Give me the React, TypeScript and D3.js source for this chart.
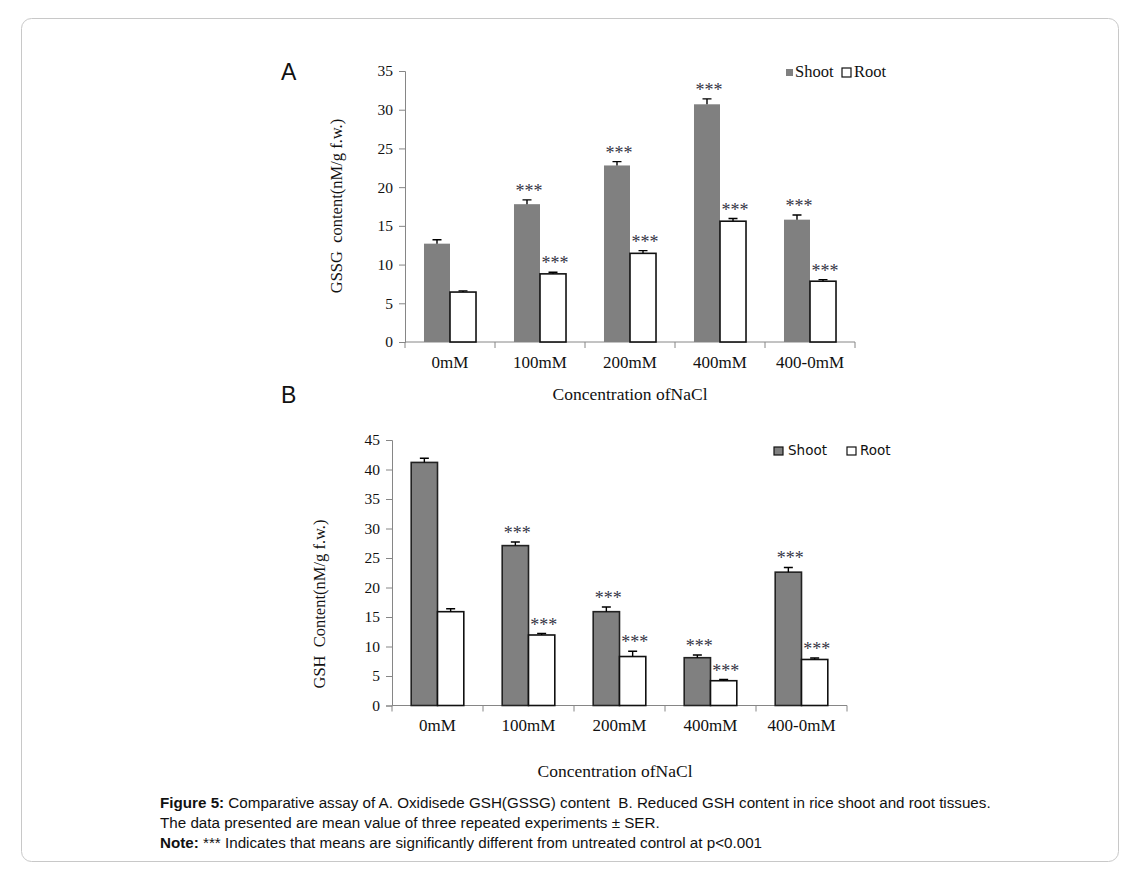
import { useEffect, useRef } from "react";
import * as d3 from "d3";

const categories = ["0mM", "100mM", "200mM", "400mM", "400-0mM"];
const seriesNames = ["Shoot", "Root"];

// Panel A: GSSG content
const gssgShoot = [12.7, 17.8, 22.8, 30.7, 15.8];
const gssgShootErr = [0.5, 0.55, 0.5, 0.7, 0.6];
const gssgRoot = [6.45, 8.8, 11.45, 15.6, 7.85];
const gssgRootErr = [0.15, 0.2, 0.35, 0.35, 0.2];
const gssgTicks = [0, 5, 10, 15, 20, 25, 30, 35];

// Panel B: GSH content
const gshShoot = [41.2, 27.1, 15.9, 8.1, 22.6];
const gshShootErr = [0.7, 0.6, 0.8, 0.45, 0.8];
const gshRoot = [15.9, 11.95, 8.3, 4.2, 7.8];
const gshRootErr = [0.5, 0.25, 0.9, 0.2, 0.25];
const gshTicks = [0, 5, 10, 15, 20, 25, 30, 35, 40, 45];

// significance marks (*** = p<0.001 vs untreated)
const significant = [false, true, true, true, true];

const SERIF = "'Liberation Serif', 'Times New Roman', serif";
const SANS = "'Liberation Sans', Arial, sans-serif";

interface PanelOpts {
  letter: string;
  yLabel: string;
  shoot: number[];
  shootErr: number[];
  root: number[];
  rootErr: number[];
  ticks: number[];
  x0: number;
  x1: number;
  yTop: number;
  yBottom: number;
  shootStroke: string;
  legendSans: boolean;
  legendX: number;
  legendY: number;
  yLabelX: number;
  yLabelY: number;
  catY: number;
  titleX: number;
  titleY: number;
  letterY: number;
}

function drawPanel(g: d3.Selection<SVGGElement, unknown, null, undefined>, o: PanelOpts) {
  const maxTick = o.ticks[o.ticks.length - 1];
  const y = d3.scaleLinear().domain([0, maxTick]).range([o.yBottom, o.yTop]);
  const x = d3.scaleBand().domain(categories).range([o.x0, o.x1]).padding(0);
  const xs = d3.scaleBand().domain(seriesNames).range([0, x.bandwidth()]).paddingInner(0).paddingOuter(0.73);

  // y axis
  const yAxis = g.append("g")
    .attr("transform", `translate(${o.x0},0)`)
    .call(d3.axisLeft(y).tickValues(o.ticks).tickSize(6).tickPadding(6).tickFormat(d3.format("d")));
  yAxis.select(".domain").attr("stroke", "#868686");
  yAxis.selectAll(".tick line").attr("stroke", "#868686");
  yAxis.selectAll("text")
    .attr("fill", "#111")
    .style("font-family", SERIF)
    .style("font-size", "15.5px");

  // x axis with ticks at category boundaries
  const xAxisG = g.append("g").attr("transform", `translate(0,${o.yBottom})`);
  xAxisG.append("line")
    .attr("x1", o.x0).attr("x2", o.x1)
    .attr("stroke", "#868686");
  const bounds = categories.map(c => x(c) || 0).concat([o.x1]);
  xAxisG.selectAll(".bt").data(bounds).enter().append("line")
    .attr("x1", d => d).attr("x2", d => d)
    .attr("y1", 0).attr("y2", 6)
    .attr("stroke", "#868686");
  xAxisG.selectAll(".cl").data(categories).enter().append("text")
    .attr("x", d => (x(d) || 0) + x.bandwidth() / 2)
    .attr("y", o.catY - o.yBottom)
    .attr("text-anchor", "middle")
    .attr("fill", "#111")
    .style("font-family", SERIF)
    .style("font-size", "17px")
    .text(d => d);

  const series = [
    { name: "Shoot", vals: o.shoot, errs: o.shootErr, fill: "#808080", stroke: o.shootStroke },
    { name: "Root", vals: o.root, errs: o.rootErr, fill: "#ffffff", stroke: "#111" }
  ];

  series.forEach(s => {
    const data = categories.map((c, i) => ({ c, v: s.vals[i], e: s.errs[i], sig: significant[i] }));
    const bx = (c: string) => (x(c) || 0) + (xs(s.name) || 0);
    const bw = xs.bandwidth();

    g.selectAll(`.bar-${s.name}`).data(data).enter().append("rect")
      .attr("x", d => bx(d.c))
      .attr("y", d => y(d.v))
      .attr("width", bw)
      .attr("height", d => o.yBottom - y(d.v))
      .attr("fill", s.fill)
      .attr("stroke", s.stroke)
      .attr("stroke-width", 1.6);

    // upper error bars
    g.selectAll(`.err-${s.name}`).data(data).enter().append("path")
      .attr("d", d => {
        const cx = bx(d.c) + bw / 2;
        const top = y(d.v + d.e);
        return `M${cx},${y(d.v)}V${top}M${cx - 4.5},${top}H${cx + 4.5}`;
      })
      .attr("fill", "none")
      .attr("stroke", "#000")
      .attr("stroke-width", 1.4);

    g.selectAll(`.sig-${s.name}`).data(data.filter(d => d.sig)).enter().append("text")
      .attr("x", d => bx(d.c) + bw / 2 + 2)
      .attr("y", d => y(d.v + d.e) - 3)
      .attr("text-anchor", "middle")
      .attr("fill", "#353545")
      .style("font-family", SERIF)
      .style("font-size", "18px")
      .text("***");
  });

  // y axis title
  g.append("text")
    .attr("transform", `translate(${o.yLabelX},${o.yLabelY}) rotate(-90)`)
    .attr("text-anchor", "middle")
    .attr("fill", "#111")
    .style("font-family", SERIF)
    .style("font-size", "16.5px")
    .style("white-space", "pre")
    .text(o.yLabel);

  // x axis title
  g.append("text")
    .attr("x", o.titleX)
    .attr("y", o.titleY)
    .attr("text-anchor", "middle")
    .attr("fill", "#111")
    .style("font-family", SERIF)
    .style("font-size", "17.5px")
    .text("Concentration ofNaCl");

  // panel letter
  g.append("text")
    .attr("x", 281)
    .attr("y", o.letterY)
    .attr("fill", "#111")
    .style("font-family", SANS)
    .style("font-size", "23px")
    .text(o.letter);

  // legend
  const lg = g.append("g").attr("transform", `translate(${o.legendX},${o.legendY})`);
  const legendFont = o.legendSans ? "'DejaVu Sans', Verdana, sans-serif" : SERIF;
  const legendSize = o.legendSans ? "13.5px" : "16.5px";
  if (o.legendSans) {
    lg.append("rect").attr("x", 0).attr("y", -8).attr("width", 9).attr("height", 8)
      .attr("fill", "#808080").attr("stroke", "#111").attr("stroke-width", 1.2);
    lg.append("text").attr("x", 14).attr("y", 0).text("Shoot")
      .style("font-family", legendFont).style("font-size", legendSize).attr("fill", "#111");
    lg.append("rect").attr("x", 73).attr("y", -8).attr("width", 9).attr("height", 8)
      .attr("fill", "#fff").attr("stroke", "#111").attr("stroke-width", 1.2);
    lg.append("text").attr("x", 86).attr("y", 0).text("Root")
      .style("font-family", legendFont).style("font-size", legendSize).attr("fill", "#111");
  } else {
    lg.append("rect").attr("x", 0).attr("y", -8).attr("width", 7).attr("height", 7)
      .attr("fill", "#808080");
    lg.append("text").attr("x", 9).attr("y", 0).text("Shoot")
      .style("font-family", legendFont).style("font-size", legendSize).attr("fill", "#111");
    lg.append("rect").attr("x", 56).attr("y", -9).attr("width", 9).attr("height", 9)
      .attr("fill", "#fff").attr("stroke", "#111").attr("stroke-width", 1.2);
    lg.append("text").attr("x", 68).attr("y", 0).text("Root")
      .style("font-family", legendFont).style("font-size", legendSize).attr("fill", "#111");
  }
}

export default function App() {
  const ref = useRef<SVGSVGElement | null>(null);

  useEffect(() => {
    if (!ref.current) return;
    const svg = d3.select(ref.current);
    svg.selectAll("*").remove();

    svg.append("rect")
      .attr("x", 21.5).attr("y", 18.5)
      .attr("width", 1097).attr("height", 843)
      .attr("rx", 10)
      .attr("fill", "#fff")
      .attr("stroke", "#c8c8c8")
      .attr("stroke-width", 1);

    const g = svg.append("g");

    drawPanel(g, {
      letter: "A",
      yLabel: "GSSG  content(nM/g f.w.)",
      shoot: gssgShoot, shootErr: gssgShootErr,
      root: gssgRoot, rootErr: gssgRootErr,
      ticks: gssgTicks,
      x0: 405, x1: 855, yTop: 71, yBottom: 342,
      shootStroke: "none",
      legendSans: false, legendX: 786, legendY: 77,
      yLabelX: 342, yLabelY: 206, catY: 368, titleX: 630, titleY: 400, letterY: 80
    });

    drawPanel(g, {
      letter: "B",
      yLabel: "GSH  Content(nM/g f.w.)",
      shoot: gshShoot, shootErr: gshShootErr,
      root: gshRoot, rootErr: gshRootErr,
      ticks: gshTicks,
      x0: 392, x1: 847, yTop: 440, yBottom: 705.5,
      shootStroke: "#222",
      legendSans: true, legendX: 774, legendY: 455,
      yLabelX: 325, yLabelY: 604, catY: 731, titleX: 615, titleY: 777, letterY: 403
    });

    // caption
    const cap = svg.append("g")
      .style("font-family", SANS)
      .style("font-size", "15.2px")
      .attr("fill", "#111");
    const l1 = cap.append("text").attr("x", 160).attr("y", 808);
    l1.append("tspan").attr("font-weight", "bold").text("Figure 5:");
    l1.append("tspan").style("white-space", "pre")
      .text(" Comparative assay of A. Oxidisede GSH(GSSG) content  B. Reduced GSH content in rice shoot and root tissues.");
    cap.append("text").attr("x", 160).attr("y", 828)
      .text("The data presented are mean value of three repeated experiments ± SER.");
    const l3 = cap.append("text").attr("x", 160).attr("y", 848);
    l3.append("tspan").attr("font-weight", "bold").text("Note:");
    l3.append("tspan").text(" *** Indicates that means are significantly different from untreated control at p<0.001");
  }, []);

  return (
    <svg
      ref={ref}
      width={1139}
      height={869}
      style={{ position: "absolute", left: 0, top: 0, background: "#fff" }}
    />
  );
}
